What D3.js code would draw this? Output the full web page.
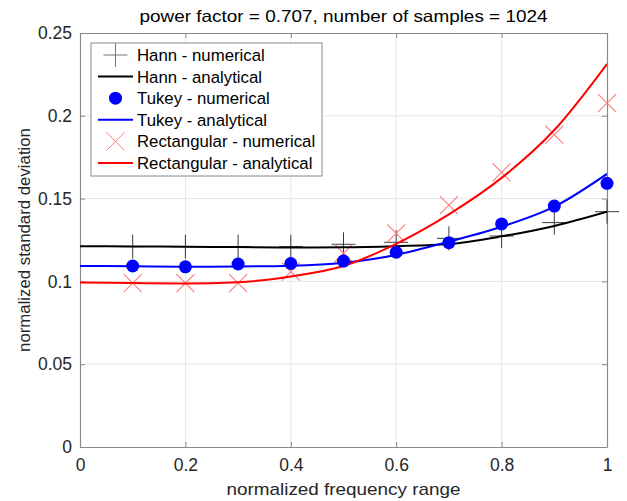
<!DOCTYPE html>
<html><head><meta charset="utf-8">
<script src="https://cdn.jsdelivr.net/npm/d3@7"></script>
<style>
body{margin:0;background:#fff;}
text{font-family:"Liberation Sans",Arial,Helvetica,sans-serif;}
</style></head>
<body><svg id="chart" width="627" height="501"></svg>
<script>
const titleText = "power factor = 0.707, number of samples = 1024";
const xLabel = "normalized frequency range";
const yLabel = "normalized standard deviation";
const xTicks = [0, 0.2, 0.4, 0.6, 0.8, 1];
const yTicks = [0, 0.05, 0.1, 0.15, 0.2, 0.25];
const xTickLabels = ["0", "0.2", "0.4", "0.6", "0.8", "1"];
const yTickLabels = ["0", "0.05", "0.1", "0.15", "0.2", "0.25"];

// numerical samples
const numX = [0.1, 0.2, 0.3, 0.4, 0.5, 0.6, 0.7, 0.8, 0.9, 1.0];
const hannNum = [0.121, 0.121, 0.121, 0.121, 0.1224, 0.1236, 0.126, 0.1274, 0.1355, 0.1421];
const tukeyNum = [0.1093, 0.1088, 0.1105, 0.1108, 0.1123, 0.1176, 0.1234, 0.1347, 0.1455, 0.1592];
const rectNum = [0.0990, 0.0990, 0.0990, 0.1059, 0.1170, 0.1290, 0.1461, 0.1658, 0.1886, 0.2077];

// analytical curves (read points)
const anaX = [0, 0.1, 0.2, 0.3, 0.4, 0.5, 0.6, 0.7, 0.8, 0.9, 1.0];
const hannAna = [0.1213, 0.1211, 0.1209, 0.1207, 0.1205, 0.1206, 0.1213, 0.1226, 0.1272, 0.1335, 0.1421];
const tukeyAna = [0.1093, 0.1092, 0.1089, 0.1090, 0.1095, 0.1113, 0.1160, 0.1240, 0.1330, 0.1451, 0.1649];
const rectAna = [0.0993, 0.0990, 0.0987, 0.0995, 0.1030, 0.1093, 0.1227, 0.1405, 0.1625, 0.1914, 0.2313];

const legendLabels = ["Hann - numerical", "Hann - analytical", "Tukey - numerical", "Tukey - analytical", "Rectangular - numerical", "Rectangular - analytical"];

const svg = d3.select("#chart");
const L = 80, R = 607, T = 33, B = 447;
const x = d3.scaleLinear().domain([0, 1]).range([L, R]);
const y = d3.scaleLinear().domain([0, 0.25]).range([B, T]);
const axCol = "#262626";

// grid
svg.append("g").selectAll("line").data(xTicks.slice(1, -1)).join("line")
  .attr("x1", d => x(d)).attr("x2", d => x(d)).attr("y1", T).attr("y2", B)
  .attr("stroke", "#e6e6e6").attr("stroke-width", 1);
svg.append("g").selectAll("line").data(yTicks.slice(1, -1)).join("line")
  .attr("y1", d => y(d)).attr("y2", d => y(d)).attr("x1", L).attr("x2", R)
  .attr("stroke", "#e6e6e6").attr("stroke-width", 1);

// axes
const fmtX = (d, i) => xTickLabels[i];
const fmtY = (d, i) => yTickLabels[i];
const gx = svg.append("g").attr("transform", `translate(0,${B})`)
  .call(d3.axisBottom(x).tickValues(xTicks).tickFormat(fmtX).tickSizeInner(-5).tickSizeOuter(0).tickPadding(12));
const gy = svg.append("g").attr("transform", `translate(${L},0)`)
  .call(d3.axisLeft(y).tickValues(yTicks).tickFormat(fmtY).tickSizeInner(-5).tickSizeOuter(0).tickPadding(8));
const gxt = svg.append("g").attr("transform", `translate(0,${T})`)
  .call(d3.axisTop(x).tickValues(xTicks).tickFormat("").tickSizeInner(-5).tickSizeOuter(0));
const gyr = svg.append("g").attr("transform", `translate(${R},0)`)
  .call(d3.axisRight(y).tickValues(yTicks).tickFormat("").tickSizeInner(-5).tickSizeOuter(0));
[gx, gy, gxt, gyr].forEach(g => {
  g.select(".domain").attr("stroke", "#8a8a8a").attr("stroke-width", 1.2);
  g.selectAll(".tick line").attr("stroke", "#8a8a8a");
  g.selectAll(".tick text").attr("fill", axCol).attr("font-size", 17.5).attr("font-family", "Liberation Sans, Arial, sans-serif");
});

// analytical lines
const line = d3.line().x(d => x(d[0])).y(d => y(d[1])).curve(d3.curveMonotoneX);
const clip = svg.append("defs").append("clipPath").attr("id", "clip")
  .append("rect").attr("x", L).attr("y", T).attr("width", R - L).attr("height", B - T);
const plot = svg.append("g");
const series = [
  {vals: hannAna, color: "#000000"},
  {vals: tukeyAna, color: "#0000ff"},
  {vals: rectAna, color: "#ff0000"}
];

// Hann numerical (+)
const hs = 12;
const hannG = plot.append("g").attr("stroke", "#3a3a3a").attr("stroke-width", 1);
numX.forEach((xv, i) => {
  const cx = x(xv), cy = y(hannNum[i]);
  hannG.append("line").attr("x1", cx - hs).attr("x2", cx + hs).attr("y1", cy).attr("y2", cy);
  hannG.append("line").attr("x1", cx).attr("x2", cx).attr("y1", cy - hs).attr("y2", cy + hs);
});

// Rect numerical (x)
const rs = 9;
const rectG = plot.append("g").attr("stroke", "#ff7a7a").attr("stroke-width", 1.1);
numX.forEach((xv, i) => {
  const cx = x(xv), cy = y(rectNum[i]);
  rectG.append("line").attr("x1", cx - rs).attr("x2", cx + rs).attr("y1", cy - rs).attr("y2", cy + rs);
  rectG.append("line").attr("x1", cx - rs).attr("x2", cx + rs).attr("y1", cy + rs).attr("y2", cy - rs);
});

// lines
series.forEach(s => {
  plot.append("path").datum(anaX.map((xv, i) => [xv, s.vals[i]]))
    .attr("d", line).attr("fill", "none").attr("stroke", s.color).attr("stroke-width", 2)
    .attr("clip-path", "url(#clip)");
});

// Tukey numerical (circles)
plot.append("g").selectAll("circle").data(numX).join("circle")
  .attr("cx", d => x(d)).attr("cy", (d, i) => y(tukeyNum[i])).attr("r", 6.5)
  .attr("fill", "#0000ff");

// title & labels
svg.append("text").attr("x", (L + R) / 2).attr("y", 22).attr("text-anchor", "middle")
  .attr("font-size", 16.5).attr("textLength", 408).attr("lengthAdjust", "spacingAndGlyphs")
  .attr("fill", "#000").text(titleText);
svg.append("text").attr("x", (L + R) / 2).attr("y", 495).attr("text-anchor", "middle")
  .attr("font-size", 17).attr("textLength", 234).attr("lengthAdjust", "spacingAndGlyphs")
  .attr("fill", axCol).text(xLabel);
svg.append("text").attr("transform", `translate(30,${(T + B) / 2}) rotate(-90)`).attr("text-anchor", "middle")
  .attr("font-size", 16.8).attr("fill", axCol).text(yLabel);

// legend
const lg = svg.append("g");
lg.append("rect").attr("x", 91).attr("y", 43).attr("width", 231).attr("height", 133)
  .attr("fill", "#fff").attr("stroke", "#8a8a8a").attr("stroke-width", 1);
const ly0 = 55, ldy = 21.6, lx0 = 98, lx1 = 133, lcx = 115.5;
legendLabels.forEach((lab, i) => {
  const yy = ly0 + i * ldy;
  if (i === 0) {
    lg.append("line").attr("x1", lcx - 12).attr("x2", lcx + 12).attr("y1", yy).attr("y2", yy).attr("stroke", "#777");
    lg.append("line").attr("x1", lcx).attr("x2", lcx).attr("y1", yy - 12).attr("y2", yy + 12).attr("stroke", "#777");
  } else if (i === 2) {
    lg.append("circle").attr("cx", lcx).attr("cy", yy).attr("r", 6.5).attr("fill", "#0000ff");
  } else if (i === 4) {
    lg.append("line").attr("x1", lcx - 9).attr("x2", lcx + 9).attr("y1", yy - 9).attr("y2", yy + 9).attr("stroke", "#ff7a7a");
    lg.append("line").attr("x1", lcx - 9).attr("x2", lcx + 9).attr("y1", yy + 9).attr("y2", yy - 9).attr("stroke", "#ff7a7a");
  } else {
    const c = i === 1 ? "#000" : (i === 3 ? "#0000ff" : "#ff0000");
    lg.append("line").attr("x1", lx0).attr("x2", lx1).attr("y1", yy).attr("y2", yy).attr("stroke", c).attr("stroke-width", 2);
  }
  lg.append("text").attr("x", 137).attr("y", yy + 6).attr("font-size", 16.8).attr("fill", "#000").text(lab);
});
</script></body></html>
